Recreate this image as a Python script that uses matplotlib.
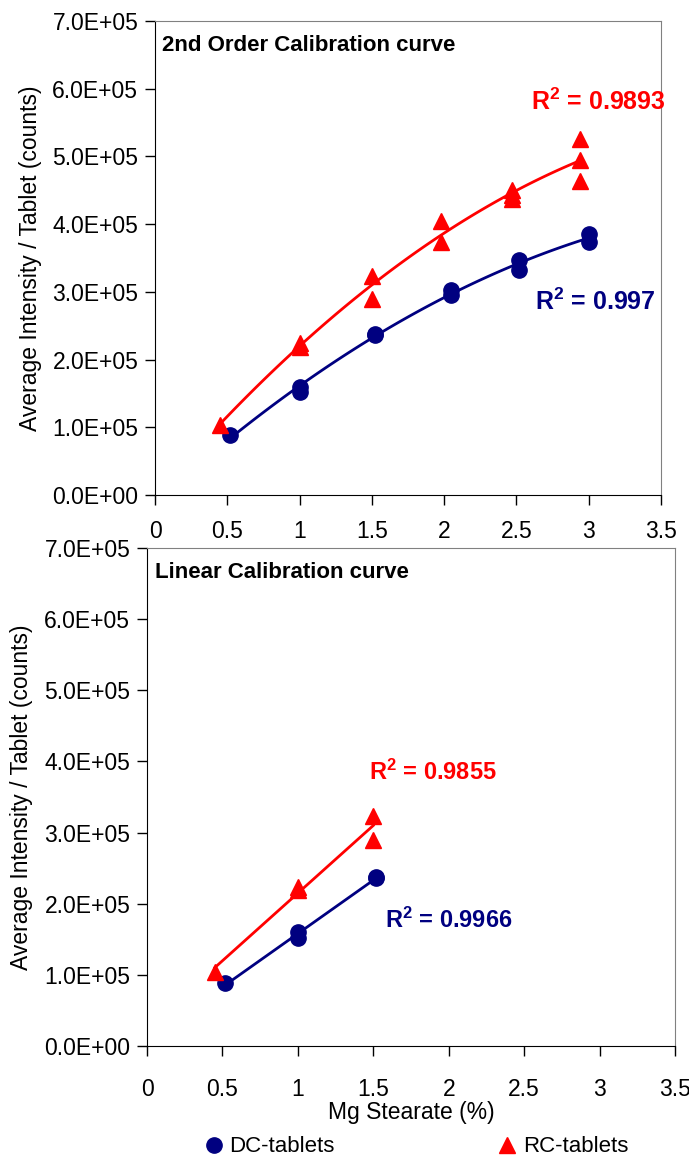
import matplotlib
matplotlib.use('Agg')
import matplotlib.pyplot as plt
import numpy as np
from matplotlib.ticker import FuncFormatter

plt.rcParams['font.family'] = ['Liberation Sans', 'DejaVu Sans']
plt.rcParams['mathtext.fontset'] = 'custom'
plt.rcParams['mathtext.rm'] = 'Liberation Sans'
plt.rcParams['mathtext.bf'] = 'Liberation Sans:bold'

# data
dc_x = [0.52, 1.0, 1.0, 1.52, 1.52, 2.05, 2.05, 2.52, 2.52, 3.0, 3.0]
dc_y = [88000, 160000, 152000, 238000, 236000, 302000, 296000, 347000, 333000, 386000, 374000]
rc_x = [0.45, 1.0, 1.0, 1.5, 1.5, 1.98, 1.98, 2.47, 2.47, 2.47, 2.94, 2.94, 2.94]
rc_y = [104000, 224000, 219000, 323000, 290000, 404000, 374000, 450000, 443000, 437000,
        525000, 495000, 464000]
lin_max = 1.6   # linear curve only uses the low range

titles = ['2nd Order Calibration curve', 'Linear Calibration curve']
r2_dc = ['0.997', '0.9966']
r2_rc = ['0.9893', '0.9855']
x_ticks = [0, 0.5, 1, 1.5, 2, 2.5, 3, 3.5]
y_ticks = [0, 100000, 200000, 300000, 400000, 500000, 600000, 700000]

blue = '#000080'
red = '#ff0000'

fig = plt.figure(figsize=(6.89, 11.59), dpi=100)
ax1 = fig.add_axes([0.225, 0.5729, 0.734, 0.409])
ax2 = fig.add_axes([0.2134, 0.0975, 0.7663, 0.4297])

sci = FuncFormatter(lambda v, p: ('%.1E' % v))

def draw(ax, deg, xmax, title, r2b, r2r, r2b_pos, r2r_pos, fs, r2fs, xpad):
    for xs, ys, col, mk, ms in [(dc_x, dc_y, blue, 'o', 11), (rc_x, rc_y, red, '^', 12)]:
        xs = np.array(xs)
        ys = np.array(ys)
        m = xs <= xmax
        xs, ys = xs[m], ys[m]
        c = np.polyfit(xs, ys, deg)
        xx = np.linspace(xs.min(), xs.max(), 100)
        ax.plot(xx, np.polyval(c, xx), color=col, lw=2, zorder=2)
        ax.plot(xs, ys, ls='none', marker=mk, ms=ms, color=col, mec=col, zorder=3)
    ax.set_xlim(0, 3.5)
    ax.set_ylim(0, 700000)
    ax.set_xticks(x_ticks)
    ax.set_xticklabels(['0', '0.5', '1', '1.5', '2', '2.5', '3', '3.5'])
    ax.set_yticks(y_ticks)
    ax.yaxis.set_major_formatter(sci)
    ax.tick_params(direction='out', length=7, width=1, labelsize=fs, pad=5)
    ax.tick_params(axis='x', pad=xpad)
    for s in ['top', 'right']:
        ax.spines[s].set_color('#808080')
    ax.set_ylabel('Average Intensity / Tablet (counts)', fontsize=16.5)
    ax.text(0.05, 680000, title, fontsize=16, fontweight='bold', va='top')
    ax.text(r2r_pos[0], r2r_pos[1], r'$\mathbf{R^2}$ = ' + r2r, color=red,
            fontsize=r2fs, fontweight='bold', va='center')
    ax.text(r2b_pos[0], r2b_pos[1], r'$\mathbf{R^2}$ = ' + r2b, color=blue,
            fontsize=r2fs, fontweight='bold', va='center')

draw(ax1, 2, 10, titles[0], r2_dc[0], r2_rc[0], (2.63, 286000), (2.6, 580000), 16.5, 18, 11)
draw(ax2, 1, lin_max, titles[1], r2_dc[1], r2_rc[1], (1.58, 176000), (1.47, 384000), 16.5, 17, 16)
ax1.yaxis.set_label_coords(-0.223, 0.5)
ax2.yaxis.set_label_coords(-0.216, 0.5)
ax2.set_xlabel('Mg Stearate (%)', fontsize=16.5, labelpad=0)

# legend below
fig.legend([plt.Line2D([], [], ls='none', marker='o', ms=11, color=blue),
            plt.Line2D([], [], ls='none', marker='^', ms=12, color=red)],
           ['DC-tablets', 'RC-tablets'], loc='center left', ncol=2, frameon=False,
           fontsize=16, bbox_to_anchor=(0.296, 0.0104), columnspacing=7.3, handletextpad=0.25,
           handlelength=0.9, borderpad=0, borderaxespad=0)

fig.savefig('out.png', dpi=100)
